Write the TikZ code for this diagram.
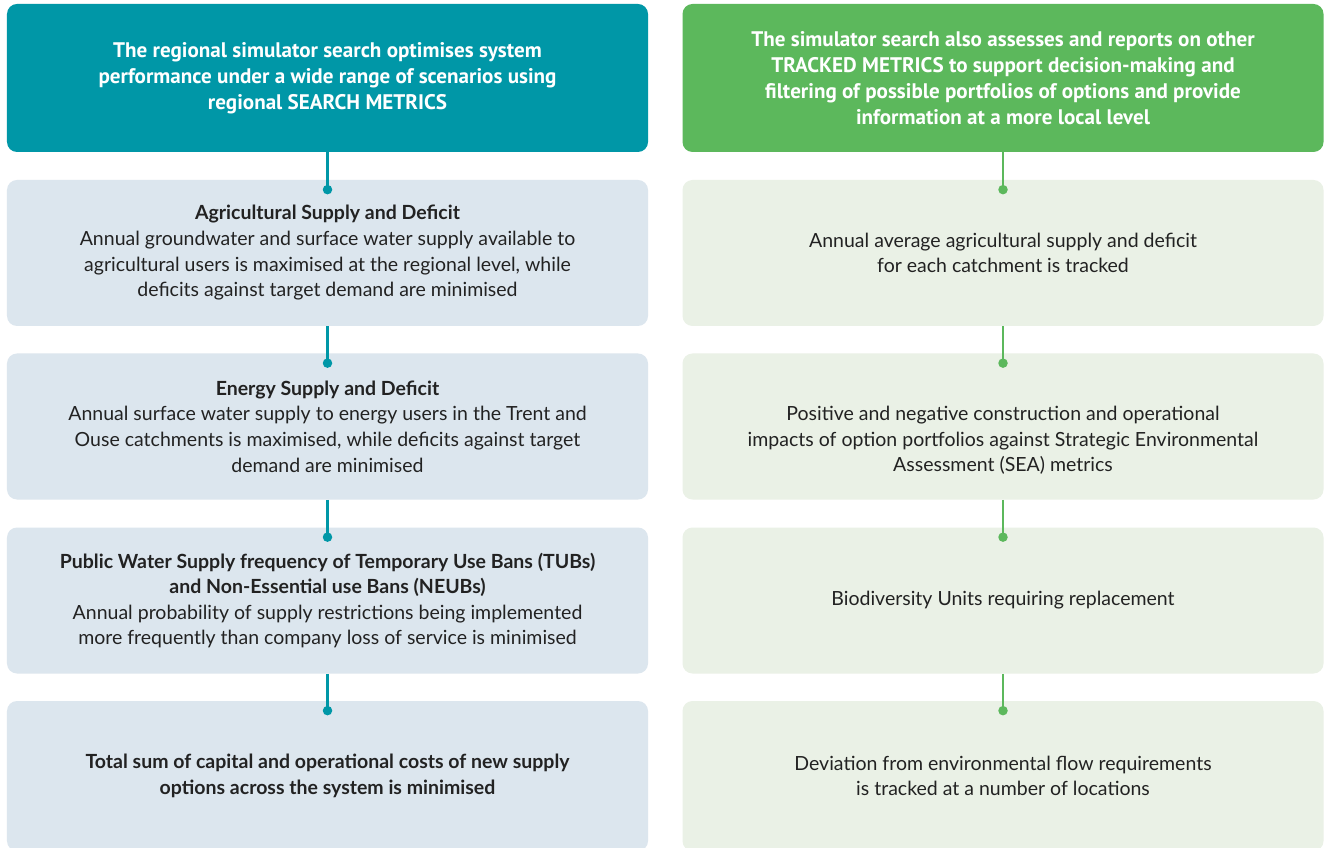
\documentclass[tikz,border=0pt]{standalone}
\usepackage{fontspec}
\setmainfont{Lato}
\newfontfamily\headfont{PT Sans}
\definecolor{searchcol}{HTML}{0097A7}
\definecolor{trackcol}{HTML}{5CB85C}
\definecolor{searchbg}{HTML}{DCE6EE}
\definecolor{trackbg}{HTML}{EAF1E6}
\definecolor{inkcol}{HTML}{222222}

\begin{document}
\begin{tikzpicture}[
    head/.style={rounded corners=0.2cm, minimum width=12.82cm, minimum height=2.96cm, align=center, text=white, font=\headfont\bfseries\fontsize{12}{14.8}\selectfont},
    metric/.style={rounded corners=0.2cm, minimum width=12.82cm, minimum height=2.92cm, align=center, text=inkcol, font=\fontsize{11.1}{14.6}\selectfont},
    link/.style={line width=1.4pt},
    knob/.style={circle, inner sep=0pt, minimum size=0.19cm}
  ]
    \useasboundingbox (0,0) rectangle (26.48,16.94);
    \fill [white] (0,0) rectangle (26.48,16.94);

    \node[head, fill=searchcol] (hdL) at (6.55,15.38) {The regional simulator search optimises system\\performance under a wide range of scenarios using\\regional SEARCH METRICS};
    \node[head, fill=trackcol] (hdR) at (20.06,15.38) {The simulator search also assesses and reports on other\\TRACKED METRICS to support decision-making and\\filtering of possible portfolios of options and provide\\information at a more local level};

    \node[metric, fill=searchbg] (bxL1) at (6.55,11.88) {\textbf{Agricultural Supply and Deficit}\\Annual groundwater and surface water supply available to\\agricultural users is maximised at the regional level, while\\deficits against target demand are minimised};
    \node[metric, fill=searchbg] (bxL2) at (6.55,8.41) {\textbf{Energy Supply and Deficit}\\Annual surface water supply to energy users in the Trent and\\Ouse catchments is maximised, while deficits against target\\demand are minimised};
    \node[metric, fill=searchbg] (bxL3) at (6.55,4.93) {\textbf{Public Water Supply frequency of Temporary Use Bans (TUBs)}\\\textbf{and Non-Essential use Bans (NEUBs)}\\Annual probability of supply restrictions being implemented\\more frequently than company loss of service is minimised};
    \node[metric, fill=searchbg, minimum height=3.0cm] (bxL4) at (6.55,1.42) {\textbf{Total sum of capital and operational costs of new supply}\\\textbf{options across the system is minimised}};

    \node[metric, fill=trackbg] (bxR1) at (20.06,11.88) {Annual average agricultural supply and deficit\\for each catchment is tracked};
    \node[metric, fill=trackbg] (bxR2) at (20.06,8.41) {};
    \node[metric, minimum size=0pt] (txR2) at ([yshift=-0.28cm]bxR2.center) {Positive and negative construction and operational\\impacts of option portfolios against Strategic Environmental\\Assessment (SEA) metrics};
    \node[metric, fill=trackbg] (bxR3) at (20.06,4.93) {Biodiversity Units requiring replacement};
    \node[metric, fill=trackbg, minimum height=3.0cm] (bxR4) at (20.06,1.42) {Deviation from environmental flow requirements\\is tracked at a number of locations};

    \node[knob, fill=searchcol] (dtL1) at ([yshift=-0.2cm]bxL1.north) {};
    \node[knob, fill=searchcol] (dtL2) at ([yshift=-0.2cm]bxL2.north) {};
    \node[knob, fill=searchcol] (dtL3) at ([yshift=-0.2cm]bxL3.north) {};
    \node[knob, fill=searchcol] (dtL4) at ([yshift=-0.2cm]bxL4.north) {};
    \node[knob, fill=trackcol] (dtR1) at ([yshift=-0.2cm]bxR1.north) {};
    \node[knob, fill=trackcol] (dtR2) at ([yshift=-0.2cm]bxR2.north) {};
    \node[knob, fill=trackcol] (dtR3) at ([yshift=-0.2cm]bxR3.north) {};
    \node[knob, fill=trackcol] (dtR4) at ([yshift=-0.2cm]bxR4.north) {};

    \draw[link, searchcol] (hdL.south) -- (dtL1.center);
    \draw[link, searchcol] (bxL1.south) -- (dtL2.center);
    \draw[link, searchcol] (bxL2.south) -- (dtL3.center);
    \draw[link, searchcol] (bxL3.south) -- (dtL4.center);
    \draw[link, trackcol] (hdR.south) -- (dtR1.center);
    \draw[link, trackcol] (bxR1.south) -- (dtR2.center);
    \draw[link, trackcol] (bxR2.south) -- (dtR3.center);
    \draw[link, trackcol] (bxR3.south) -- (dtR4.center);
  \end{tikzpicture}
\end{document}
